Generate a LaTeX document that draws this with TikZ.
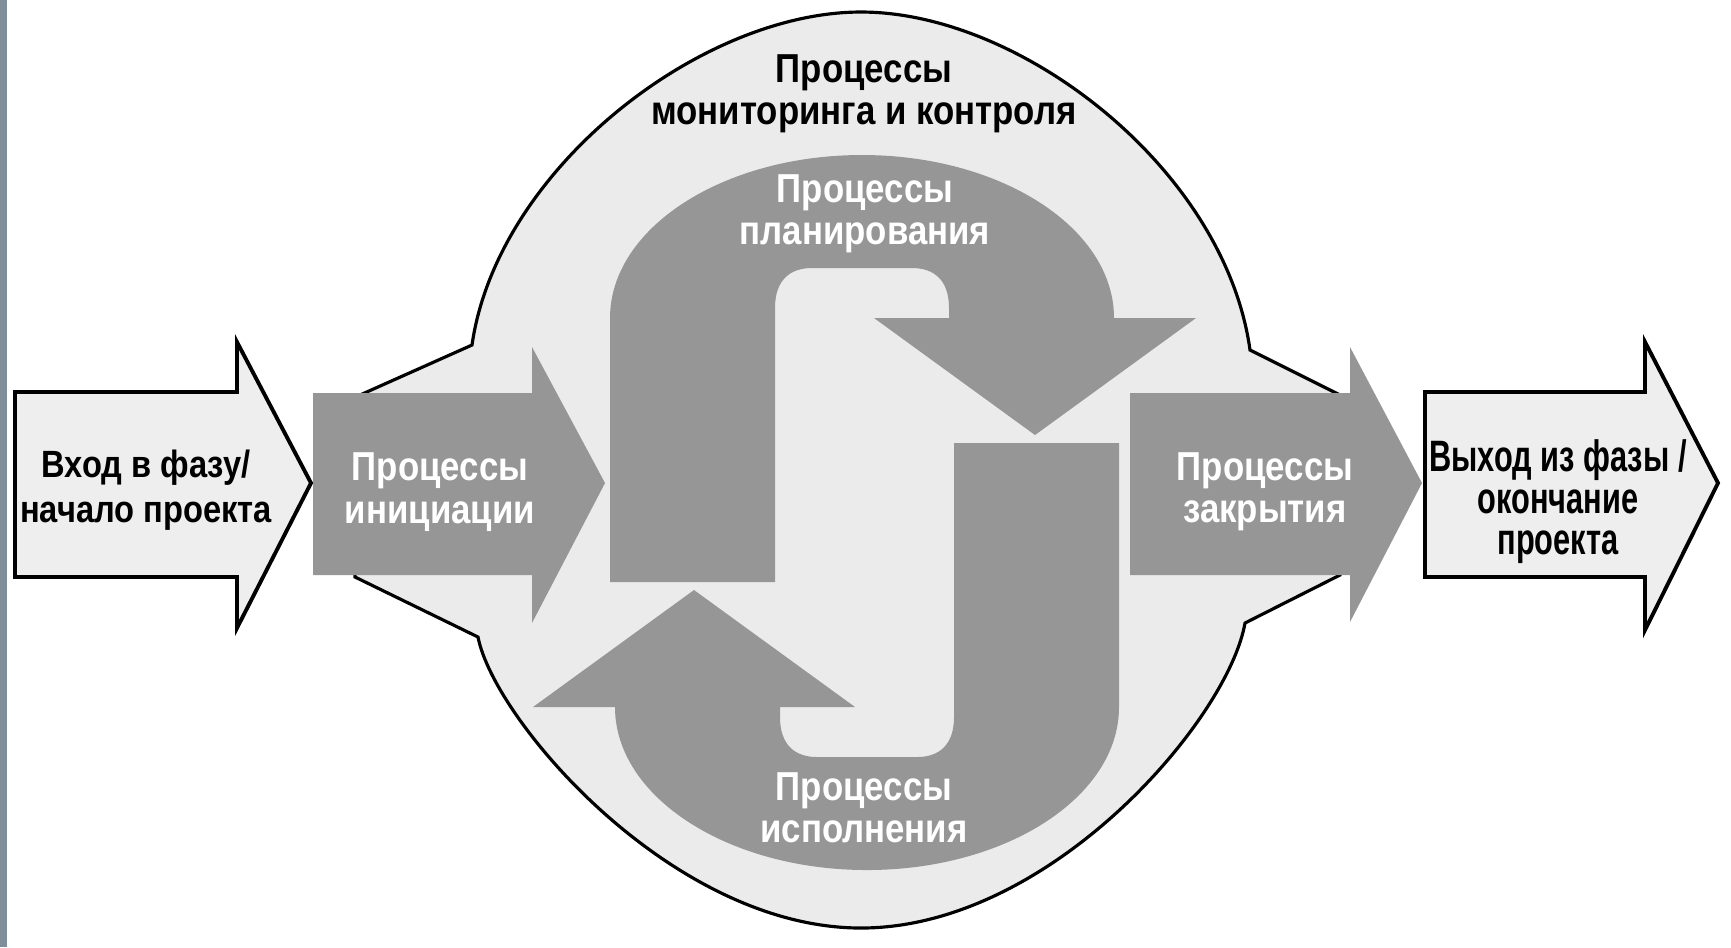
\documentclass[tikz,border=0pt]{standalone}
\usepackage{fontspec}
\setmainfont{Liberation Sans}
\newfontfamily\serre[FakeStretch=0.86]{Liberation Sans}
\newfontfamily\etroit[FakeStretch=0.7]{Liberation Sans}
\begin{document}
\begin{tikzpicture}[x=0.01cm,y=-0.01cm,line join=miter,
  noir/.style={inner sep=0pt,align=center,font=\serre\bfseries\fontsize{11.5}{12}\selectfont},
  blanc/.style={noir,text=white,font=\serre\bfseries\fontsize{11.5}{12}\selectfont},
  bord/.style={fill=clair,draw=black,line width=1.1pt}]
\definecolor{gris}{HTML}{969696}
\definecolor{bulle}{HTML}{EBEBEB}
\definecolor{clair}{HTML}{EEEEEE}
\definecolor{ardoise}{HTML}{7F8E9B}

\useasboundingbox (0,0) rectangle (1731,947);
\fill[white] (0,0) rectangle (1731,947);
\fill[ardoise] (0,0) rectangle (7,947); % la bande a gauche

% la bulle du monitoring
\filldraw[fill=bulle,line width=0.9pt] (360,395) -- (472,345)
  .. controls (497,170) and (700,12) .. (861,12)
  .. controls (1022,12) and (1225,170) .. (1250,350) -- (1340,395)
  -- (1340,575) -- (1245,623)
  .. controls (1228,720) and (1050,928) .. (861,928)
  .. controls (672,928) and (494,720) .. (478,637) -- (355,577) -- cycle;

% les deux fleches en S (la seconde tournee de 180)
\foreach \tour in {0,180}
  \fill[gris,rotate around={\tour:(864.5,512.5)}] (610,582) -- (610,318)
    .. controls (610,228) and (723,155) .. (862,155)
    .. controls (1001,155) and (1114,228) .. (1114,318)
    -- (1196,318) -- (1035,435) -- (874,318) -- (949,318) -- (949,308)
    .. controls (949,280) and (934,268) .. (912,268) -- (812,268)
    .. controls (790,268) and (775,280) .. (775,308) -- (775,582) -- cycle;

% entree et sortie
\filldraw[bord] (15,392) -- (237,392) -- (237,342) -- (311,483) -- (237,628) -- (237,577) -- (15,577) -- cycle;
\filldraw[bord] (1425,392) -- (1645,392) -- (1645,342) -- (1718,483) -- (1645,630) -- (1645,577) -- (1425,577) -- cycle;

% initiation et cloture
\fill[gris] (313,393) -- (532,393) -- (532,347) -- (605,483) -- (532,623) -- (532,575) -- (313,575) -- cycle;
\fill[gris] (1130,393) -- (1350,393) -- (1350,347) -- (1422,483) -- (1350,622) -- (1350,575) -- (1130,575) -- cycle;

\node[noir] (titre) at (864,94) {Процессы\\мониторинга и контроля};
\node[blanc] (plan) at (865,214) {Процессы\\планирования};
\node[blanc] (exec) at (864,808) {Процессы\\исполнения};
\node[blanc] (init) at (440,492) {Процессы\\инициации};
\node[blanc] (clot) at (1265,492) {Процессы\\закрытия};
\node[noir,font=\serre\bfseries\fontsize{10.8}{12.8}\selectfont] (entree) at (146,490) {Вход в фазу/\\начало проекта};
\node[noir,font=\etroit\bfseries\fontsize{12.5}{11.8}\selectfont] (sortie) at (1558,502) {Выход из фазы /\\окончание\\проекта};
\end{tikzpicture}
\end{document}
